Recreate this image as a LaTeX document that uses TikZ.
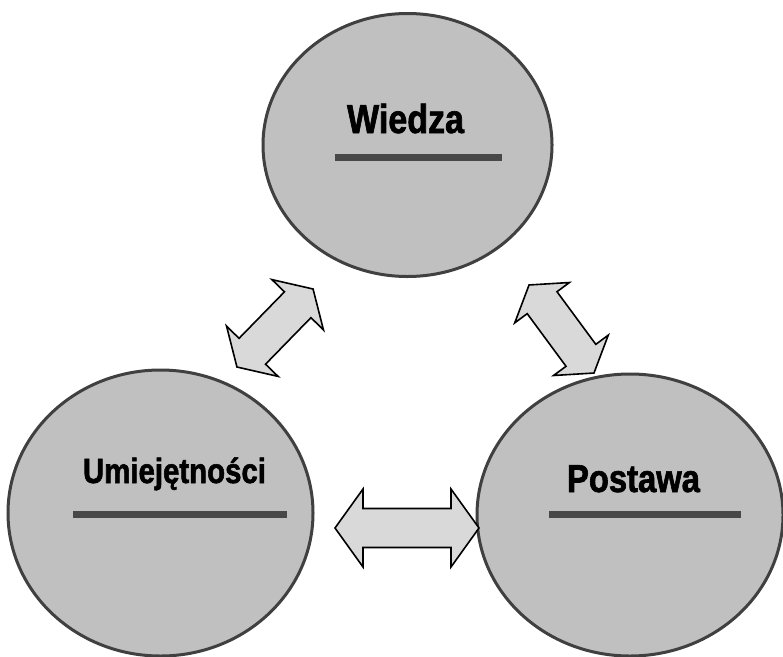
\documentclass[tikz,border=0pt]{standalone}
\usepackage{fontspec}
\newfontfamily\labelfont{Liberation Sans}[FakeStretch=0.84, BoldFeatures={FakeBold=1.6}]
\usetikzlibrary{shapes.geometric}
\definecolor{discfill}{RGB}{192,192,192}
\definecolor{discline}{RGB}{64,64,64}
\definecolor{barcol}{RGB}{72,72,72}
\definecolor{arrowfill}{RGB}{217,217,217}
\tikzset{
  disc/.style={ellipse, draw=discline, line width=3pt, fill=discfill, inner sep=0pt},
  title/.style={anchor=base, inner sep=0pt, font=\labelfont\bfseries},
  bar/.style={draw=barcol, line width=7pt},
  blockarrow/.style={draw=black, line width=1.6pt, fill=arrowfill, line join=miter},
}
% double-headed block arrow: centre, angle, half length, head length, head half width, shaft half width
\newcommand\twowayarrow[6]{%
  \begin{scope}[shift={#1}, rotate=#2]
    \draw[blockarrow] (-#3,0) -- (-#3+#4,#5) -- (-#3+#4,#6) -- (#3-#4,#6) -- (#3-#4,#5)
      -- (#3,0) -- (#3-#4,-#5) -- (#3-#4,-#6) -- (-#3+#4,-#6) -- (-#3+#4,-#5) -- cycle;
  \end{scope}}
\begin{document}
\begin{tikzpicture}[x=1pt, y=-1pt]
  \useasboundingbox (0,0) rectangle (783,656);
  \fill[white] (0,0) rectangle (783,656);

  % the three circles
  \node[disc, minimum width=289pt, minimum height=263pt] (wiedza) at (407.5,145) {};
  \node[disc, minimum width=305pt, minimum height=286pt] (umiej) at (160.5,513) {};
  \node[disc, minimum width=306pt, minimum height=282pt] (postawa) at (630,515) {};

  % titles and their bars
  \node[title, font=\labelfont\bfseries\fontsize{40.5}{40.5}\selectfont] (tw) at (405.5,133) {Wiedza};
  \node[title, font=\labelfont\bfseries\fontsize{35}{35}\selectfont] (tu) at (174.5,483) {Umiejętności};
  \node[title, font=\labelfont\bfseries\fontsize{39}{39}\selectfont] (tp) at (633.5,492) {Postawa};
  \draw[bar] (335,157) -- (502,157);
  \draw[bar] (73,514) -- (287,514);
  \draw[bar] (549,514) -- (741,514);

  % two-way arrows between the circles
  \twowayarrow{(275,328)}{45.7}{54.5}{22}{36}{18.5}
  \twowayarrow{(561.5,329)}{-53.6}{54.7}{22}{34}{18.5}
  \twowayarrow{(407,528)}{0}{72}{28}{39}{19.5}
\end{tikzpicture}
\end{document}
